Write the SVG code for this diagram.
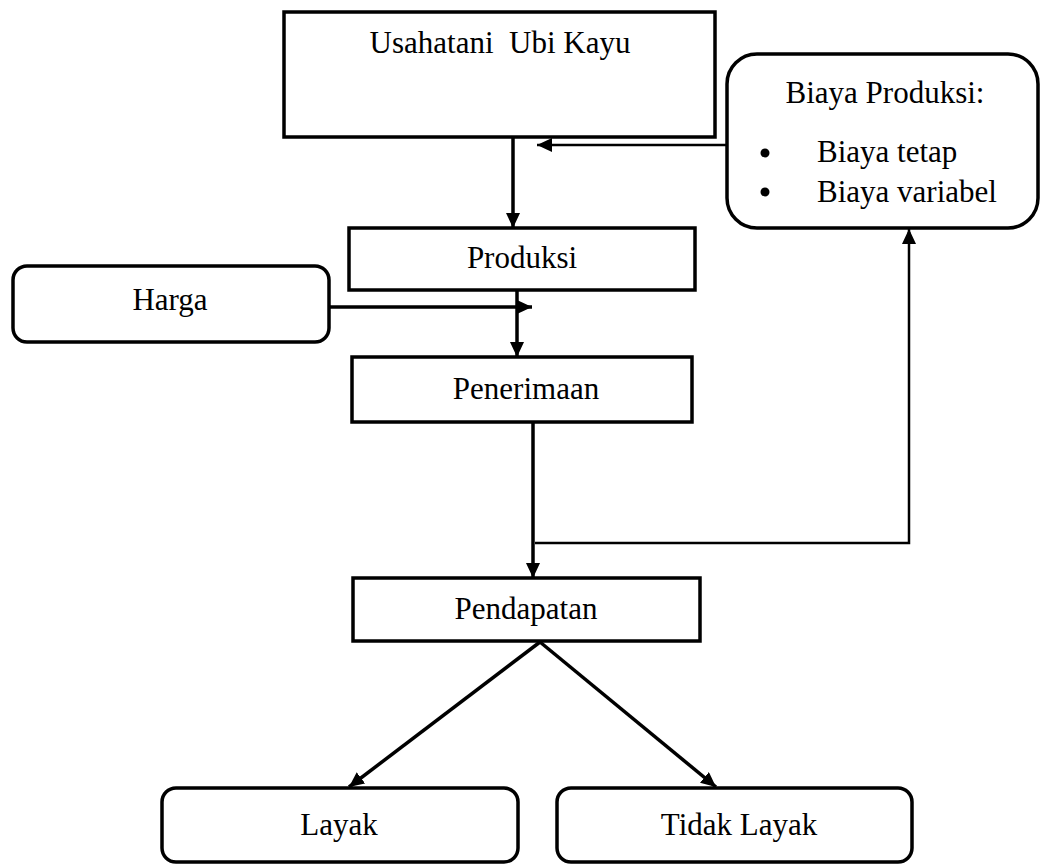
<svg xmlns="http://www.w3.org/2000/svg" width="1040" height="864" viewBox="0 0 1040 864">
<style>
.box{fill:#fff;stroke:#000;stroke-width:3.5}
.t{font-family:"Liberation Serif","Times New Roman",serif;font-size:31px;fill:#000;white-space:pre}
.c{text-anchor:middle}
.ln{fill:none;stroke:#000;stroke-width:3.5}
.thin{fill:none;stroke:#000;stroke-width:2.5}
</style>
<defs>
<marker id="ah" markerUnits="userSpaceOnUse" markerWidth="16" markerHeight="14" refX="15" refY="7" orient="auto">
<path d="M0,0 L15,7 L0,14 Z" fill="#000"/>
</marker>
</defs>
<g id="usahatani"><rect class="box" x="284" y="12" width="431" height="125"/><text class="t c" x="500" y="53" xml:space="preserve">Usahatani  Ubi Kayu</text></g>
<g id="biaya"><rect class="box" x="727" y="54" width="311" height="174" rx="30"/>
<text class="t c" x="885" y="103">Biaya Produksi:</text>
<circle cx="765" cy="153" r="4.5"/><circle cx="765" cy="192" r="4.5"/>
<text class="t" x="817" y="162">Biaya tetap</text>
<text class="t" x="817" y="202">Biaya variabel</text></g>
<g id="produksi"><rect class="box" x="349" y="228" width="346" height="62"/><text class="t c" x="522" y="268">Produksi</text></g>
<g id="harga"><rect class="box" x="13" y="266" width="316" height="76" rx="14"/><text class="t c" x="170" y="310">Harga</text></g>
<g id="penerimaan"><rect class="box" x="352" y="357" width="340" height="65"/><text class="t c" x="526" y="399">Penerimaan</text></g>
<g id="pendapatan"><rect class="box" x="353" y="578" width="347" height="63"/><text class="t c" x="526" y="619">Pendapatan</text></g>
<g id="layak"><rect class="box" x="162" y="788" width="356" height="74" rx="14"/><text class="t c" x="339" y="835">Layak</text></g>
<g id="tidaklayak"><rect class="box" x="557" y="788" width="355" height="74" rx="14"/><text class="t c" x="739" y="835">Tidak Layak</text></g>
<g id="connectors">
<line class="ln" x1="513" y1="137" x2="513" y2="228" marker-end="url(#ah)"/>
<line class="thin" x1="727" y1="145" x2="537" y2="145" marker-end="url(#ah)"/>
<line class="ln" x1="517" y1="290" x2="517" y2="357" marker-end="url(#ah)"/>
<line class="ln" x1="329" y1="307" x2="532" y2="307" marker-end="url(#ah)"/>
<line class="ln" x1="533" y1="422" x2="533" y2="578" marker-end="url(#ah)"/>
<polyline class="thin" points="535,543 909,543 909,232"/>
<line class="thin" x1="909" y1="240" x2="909" y2="229" marker-end="url(#ah)"/>
<line class="ln" x1="540" y1="642" x2="349" y2="787" marker-end="url(#ah)"/>
<line class="ln" x1="540" y1="642" x2="716" y2="787" marker-end="url(#ah)"/>
</g>
</svg>
